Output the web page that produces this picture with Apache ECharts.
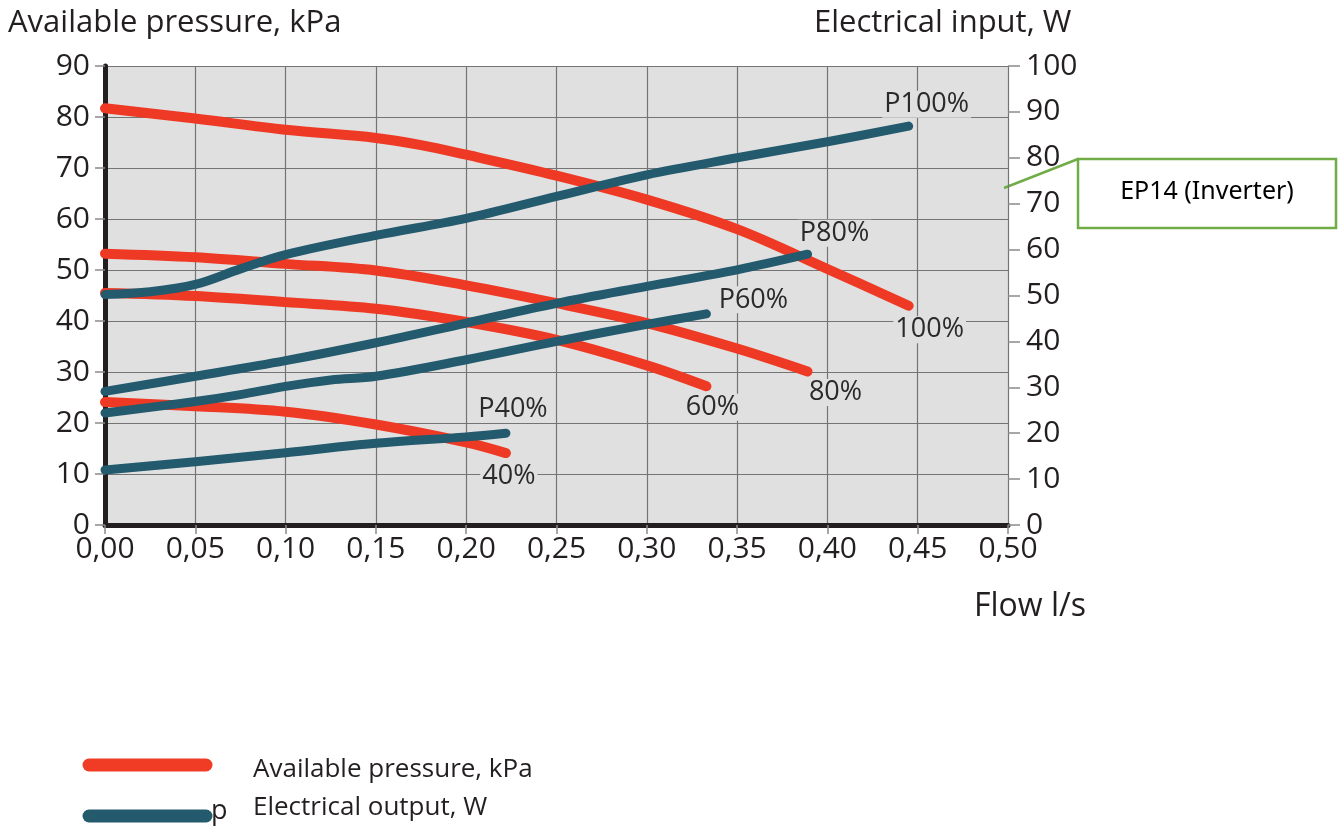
<!DOCTYPE html>
<html>
<head>
<meta charset="utf-8">
<script src="https://cdn.jsdelivr.net/npm/echarts@6/dist/echarts.min.js"></script>
<style>
html,body{margin:0;padding:0;background:#fff;}
#chart{width:1340px;height:833px;}
</style>
</head>
<body>
<div id="chart"></div>
<script>
// ---- Data (flow l/s -> available pressure kPa) ----
const p100X = [0, 0.05, 0.10, 0.15, 0.175, 0.20, 0.25, 0.30, 0.35, 0.40, 0.445];
const p100Y = [81.7, 79.7, 77.5, 75.9, 74.5, 72.6, 68.5, 63.8, 58.0, 50.2, 43.0];
const p80X = [0, 0.05, 0.10, 0.15, 0.20, 0.25, 0.30, 0.35, 0.389];
const p80Y = [53.2, 52.5, 51.2, 49.9, 47.0, 43.5, 39.6, 34.6, 30.1];
const p60X = [0, 0.05, 0.10, 0.15, 0.20, 0.25, 0.30, 0.333];
const p60Y = [45.5, 44.9, 43.7, 42.4, 39.8, 36.3, 31.3, 27.2];
const p40X = [0, 0.05, 0.10, 0.15, 0.20, 0.222];
const p40Y = [24.1, 23.3, 22.2, 19.7, 16.2, 14.1];

// ---- Data (flow l/s -> electrical input W) ----
const e100X = [0, 0.025, 0.05, 0.075, 0.10, 0.15, 0.20, 0.25, 0.30, 0.35, 0.40, 0.445];
const e100Y = [50.2, 50.8, 52.4, 55.8, 58.9, 63.1, 66.8, 71.6, 76.3, 80.0, 83.5, 86.9];
const e80X = [0, 0.05, 0.10, 0.15, 0.20, 0.25, 0.30, 0.35, 0.389];
const e80Y = [29.1, 32.4, 35.8, 39.7, 44.0, 48.3, 52.0, 55.6, 59.0];
const e60X = [0, 0.05, 0.075, 0.10, 0.125, 0.15, 0.20, 0.25, 0.30, 0.333];
const e60Y = [24.4, 26.9, 28.4, 30.2, 31.6, 32.4, 36.0, 40.0, 43.7, 46.0];
const e40X = [0, 0.05, 0.10, 0.15, 0.20, 0.222];
const e40Y = [12.0, 13.8, 15.75, 17.8, 19.2, 20.0];

// ---- Labels ----
const pressureLabels = ['100%', '80%', '60%', '40%'];
const powerLabels = ['P100%', 'P80%', 'P60%', 'P40%'];
const leftTitle = 'Available pressure, kPa';
const rightTitle = 'Electrical input, W';
const xTitle = 'Flow l/s';
const legendNames = ['Available pressure, kPa', 'Electrical output, W'];
const boxText = 'EP14 (Inverter)';

const RED = '#ee3a24';
const BLUE = '#235a6e';
const TXT = '#231f20';
const FONT = '"Open Sans", "Noto Sans", sans-serif';

function mk(name, xs, ys, color, width, yIdx, text, off) {
  const n = xs.length - 1;
  return {
    type: 'line', name: name, yAxisIndex: yIdx, silent: true,
    data: xs.map((x, i) => [x, ys[i]]),
    showSymbol: false, smooth: 0.35,
    lineStyle: {color: color, width: width, cap: 'round', join: 'round'},
    itemStyle: {color: color},
    z: yIdx === 1 ? 4 : 3,
    markPoint: {
      silent: true, symbol: 'circle', symbolSize: 0, animation: false,
      data: [{coord: [xs[n], ys[n]]}],
      label: {show: true, formatter: text, position: 'inside', offset: off,
        fontSize: 27, fontFamily: FONT, color: '#2a2a2a',
        backgroundColor: '#e0e0e0', padding: [0, 2]}
    }
  };
}

const series = [
  mk('p100', p100X, p100Y, RED, 10, 0, pressureLabels[0], [21, 24]),
  mk('p80', p80X, p80Y, RED, 10, 0, pressureLabels[1], [28, 21]),
  mk('p60', p60X, p60Y, RED, 10, 0, pressureLabels[2], [6, 21]),
  mk('p40', p40X, p40Y, RED, 10, 0, pressureLabels[3], [3, 23]),
  mk('e100', e100X, e100Y, BLUE, 9, 1, powerLabels[0], [18, -22]),
  mk('e80', e80X, e80Y, BLUE, 9, 1, powerLabels[1], [27, -21]),
  mk('e60', e60X, e60Y, BLUE, 9, 1, powerLabels[2], [47, -14]),
  mk('e40', e40X, e40Y, BLUE, 9, 1, powerLabels[3], [7, -24])
];

const chart = echarts.init(document.getElementById('chart'), null, {renderer: 'canvas'});
chart.setOption({
  animation: false,
  backgroundColor: '#ffffff',
  textStyle: {fontFamily: FONT},
  grid: {left: 105, right: 332, top: 66, bottom: 308, show: true,
    backgroundColor: '#e0e0e0', borderWidth: 0},
  xAxis: {
    type: 'value', min: 0, max: 0.5, interval: 0.05,
    axisLine: {show: true, lineStyle: {color: '#231f20', width: 5}},
    axisTick: {show: true, length: 9, lineStyle: {color: '#8a8a8a', width: 1.5}},
    axisLabel: {margin: 9, fontSize: 30, color: TXT, fontFamily: FONT,
      formatter: v => v.toFixed(2).replace('.', ',')},
    splitLine: {show: true, lineStyle: {color: '#747474', width: 1.2}}
  },
  yAxis: [
    {
      type: 'value', min: 0, max: 90, interval: 10, position: 'left',
      axisLine: {show: true, lineStyle: {color: '#231f20', width: 5}},
      axisTick: {show: true, length: 10, lineStyle: {color: '#8a8a8a', width: 1.5}},
      axisLabel: {margin: 15, fontSize: 30, color: TXT, fontFamily: FONT},
      splitLine: {show: true, lineStyle: {color: '#747474', width: 1.2}}
    },
    {
      type: 'value', min: 0, max: 100, interval: 10, position: 'right',
      axisLine: {show: false},
      axisTick: {show: true, length: 12, lineStyle: {color: '#8a8a8a', width: 1.5}},
      axisLabel: {margin: 18, fontSize: 30, color: TXT, fontFamily: FONT},
      splitLine: {show: false}
    }
  ],
  series: series,
  graphic: [
    {type: 'text', left: 8, top: 8, style: {text: leftTitle, font: '31px ' + FONT, fill: TXT}},
    {type: 'text', left: 814, top: 8, style: {text: rightTitle, font: '31px ' + FONT, fill: TXT}},
    {type: 'text', left: 974, top: 591, style: {text: xTitle, font: '32px ' + FONT, fill: TXT}},
    // legend
    {type: 'line', shape: {x1: 89, y1: 765, x2: 206, y2: 765},
      style: {stroke: '#f03c24', lineWidth: 13, lineCap: 'round'}},
    {type: 'line', shape: {x1: 89, y1: 816, x2: 206, y2: 816},
      style: {stroke: '#245a6d', lineWidth: 13, lineCap: 'round'}},
    {type: 'text', left: 253, top: 757, style: {text: legendNames[0], font: '26px ' + FONT, fill: TXT}},
    {type: 'text', left: 253, top: 795, style: {text: legendNames[1], font: '26px ' + FONT, fill: TXT}},
    {type: 'text', left: 211, top: 798, style: {text: 'p', font: '27px ' + FONT, fill: TXT}},
    // annotation box
    {type: 'line', shape: {x1: 1004, y1: 188, x2: 1078, y2: 159},
      style: {stroke: '#70ad47', lineWidth: 2.5}},
    {type: 'rect', shape: {x: 1078, y: 159, width: 258, height: 69},
      style: {fill: '#ffffff', stroke: '#70ad47', lineWidth: 2.5}},
    {type: 'text', x: 1207, y: 192, style: {text: boxText, font: '25px "Noto Sans", "Open Sans", sans-serif',
      fill: '#000', align: 'center', verticalAlign: 'middle'}}
  ]
});
</script>
</body>
</html>
